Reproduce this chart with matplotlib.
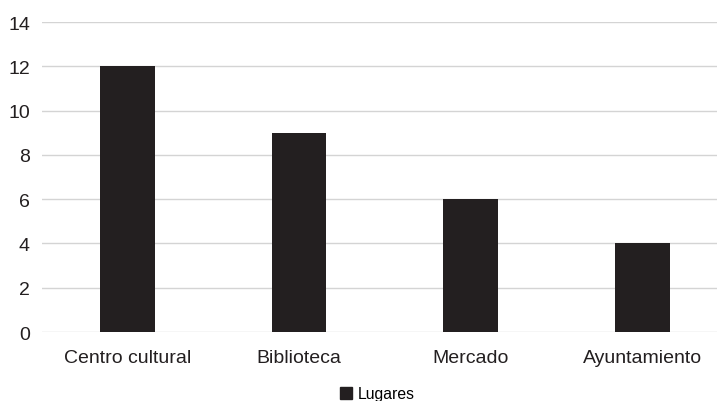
import matplotlib
matplotlib.use("Agg")
import matplotlib.pyplot as plt
from matplotlib.patches import Patch

categories = ["Centro cultural", "Biblioteca", "Mercado", "Ayuntamiento"]
values = [12, 9, 6, 4]
series_name = "Lugares"

plt.rcParams['font.family'] = ['Liberation Sans', 'DejaVu Sans']

fig = plt.figure(figsize=(7.17, 4.02), dpi=100)
ax = fig.add_axes([0.0582, 0.1716, 0.957, 0.7711])

x = range(len(categories))
ax.bar(x, values, width=0.32, color='#231f20', zorder=3)

ax.set_xlim(-0.5, len(categories) - 0.5)
ax.set_ylim(0, 14)
ax.set_yticks(range(0, 15, 2))
ax.set_xticks(list(x))
ax.set_xticklabels(categories, fontsize=14, color='#231f20')
ax.tick_params(axis='y', labelsize=14, colors='#231f20', length=0, pad=8.5)
ax.tick_params(axis='x', length=0, pad=12)
ax.grid(axis='y', color='#d4d4d4', linewidth=1, zorder=0)
for s in ax.spines.values():
    s.set_visible(False)

fig.legend(handles=[Patch(color='#231f20', label=series_name)], loc='center',
           bbox_to_anchor=(0.526, 0.018), frameon=False, fontsize=11.3,
           handlelength=0.75, handleheight=0.75, handletextpad=0.35,
           borderpad=0, borderaxespad=0)

fig.savefig("out.png", dpi=100)
